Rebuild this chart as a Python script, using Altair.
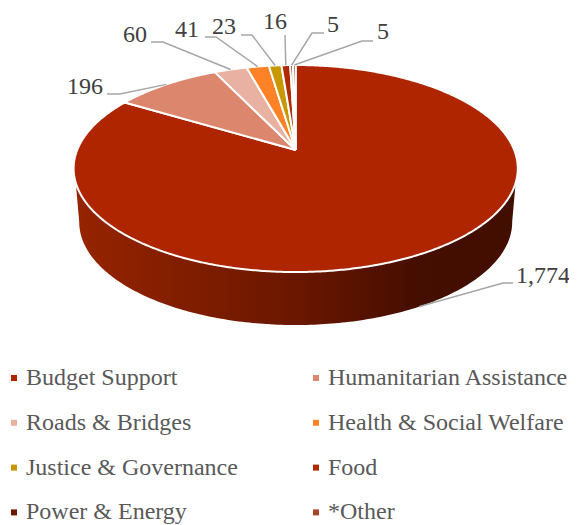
import math
import altair as alt
import pandas as pd

categories = ["Budget Support", "Humanitarian Assistance", "Roads & Bridges", "Health & Social Welfare",
              "Justice & Governance", "Food", "Power & Energy", "*Other"]
values = [1774, 196, 60, 41, 23, 16, 5, 5]
value_labels = ["1,774", "196", "60", "41", "23", "16", "5", "5"]
colors = ["#ae2500", "#dd866e", "#e8b1a1", "#ff8227", "#c89800", "#b22a00", "#6b1900", "#a8442a"]

# the legend fills column by column, so its domain lists the entries in that order
legend_order = [0, 2, 4, 6, 1, 3, 5, 7]

# view geometry of the tilted disc (page pixels)
CX, CY, A, B, K = 295.7, 150, 218.5, 100.2, 0.179
CY2, A2, B2 = 203.6, 213, 99.7
W, H = 561, 517
FONT = "Liberation Serif"

def top(a):
    u, v = math.sin(math.radians(a)), math.cos(math.radians(a))
    d = 1 + K * v
    return CX + A * u / d, CY - B * v / d

def bottom(a):
    u, v = math.sin(math.radians(a)), math.cos(math.radians(a))
    d = 1 + K * v
    return CX + A2 * u / d, CY2 - B2 * v / d

total = sum(values)
starts, cum = [], 0
for v in values:
    starts.append(360 * cum / total)
    cum += v

# slices
rows = []
for c, s, v in zip(categories, starts, values):
    e = s + 360 * v / total
    pts = [(CX, CY)]
    n = max(2, int((e - s) * 2))
    for i in range(n + 1):
        pts.append(top(s + (e - s) * i / n))
    pts.append((CX, CY))
    for i, (x, y) in enumerate(pts):
        rows.append({"cat": c, "i": i, "x": x, "y": y})
slices = pd.DataFrame(rows)

# outer wall
wall_pts = [top(108 + (252 - 108) * i / 200) for i in range(201)]
wall_pts += [bottom(260 - (260 - 100) * i / 200) for i in range(201)]
wall = pd.DataFrame([{"i": i, "x": x, "y": y} for i, (x, y) in enumerate(wall_pts)])

# leaders: from slice mid-rim through an elbow to the label
elbows = [((503, 283), (513, 283)), ((120, 94), (107, 94)), ((163, 42), (151, 42)), ((216, 37), (205, 37)),
          ((252, 35), (241, 35)), ((285, 36), (285, 35)), ((312, 33), (324, 33)), ((362, 41), (373, 41))]
label_pos = [(543, 276), (85, 87), (135, 35), (187, 30), (224, 27), (275, 22), (333, 25), (383, 32)]
rows, lab = [], []
for k, (c, s, v) in enumerate(zip(categories, starts, values)):
    mid = s + 180 * v / total
    anchor = bottom(mid) if k == 0 else top(mid)
    for i, (x, y) in enumerate([anchor, elbows[k][0], elbows[k][1]]):
        rows.append({"cat": c, "i": i, "x": x, "y": y})
    lab.append({"t": value_labels[k], "x": label_pos[k][0], "y": label_pos[k][1]})
leaders = pd.DataFrame(rows)
labels = pd.DataFrame(lab)

xs = alt.Scale(domain=[8, 8 + W], range=[0, W])
ys = alt.Scale(domain=[8, 8 + H], range=[0, H])
X = alt.X("x:Q", scale=xs, axis=None)
Y = alt.Y("y:Q", scale=ys, axis=None)

wall_layer = alt.Chart(wall).mark_line(
    stroke=None,
    fill=alt.Gradient(gradient="linear", x1=0, x2=1, y1=0, y2=0, stops=[
        alt.GradientStop(color="#962400", offset=0),
        alt.GradientStop(color="#6a1700", offset=0.5),
        alt.GradientStop(color="#440e00", offset=0.78),
        alt.GradientStop(color="#420e00", offset=1),
    ]),
).encode(x=X, y=Y, order="i:Q")

slice_layer = alt.Chart(slices).mark_line(stroke="white", strokeWidth=2, strokeJoin="round").encode(
    x=X, y=Y, order="i:Q",
    fill=alt.Fill("cat:N", sort=None,
                  scale=alt.Scale(domain=[categories[i] for i in legend_order],
                                  range=[colors[i] for i in legend_order]),
                  legend=alt.Legend(title=None, orient="none", legendX=-6, legendY=358, columns=2,
                                    symbolType="square", symbolSize=36, symbolStrokeWidth=0,
                                    labelFont=FONT, labelFontSize=24, labelColor="#595959",
                                    labelOffset=0, columnPadding=66, rowPadding=20.8, labelLimit=300)),
)

leader_layer = alt.Chart(leaders).mark_line(stroke="#a6a6a6", strokeWidth=1.5).encode(
    x=X, y=Y, order="i:Q", detail="cat:N")

text_layer = alt.Chart(labels).mark_text(font=FONT, fontSize=24, color="#404040").encode(
    x=X, y=Y, text="t:N")

chart = alt.layer(wall_layer, slice_layer, leader_layer, text_layer).properties(
    width=W, height=H, padding=0, autosize=alt.AutoSizeParams(type="none"),
).configure_view(stroke=None)

chart.save("out.html", embed_options={"renderer": "svg", "actions": False})
